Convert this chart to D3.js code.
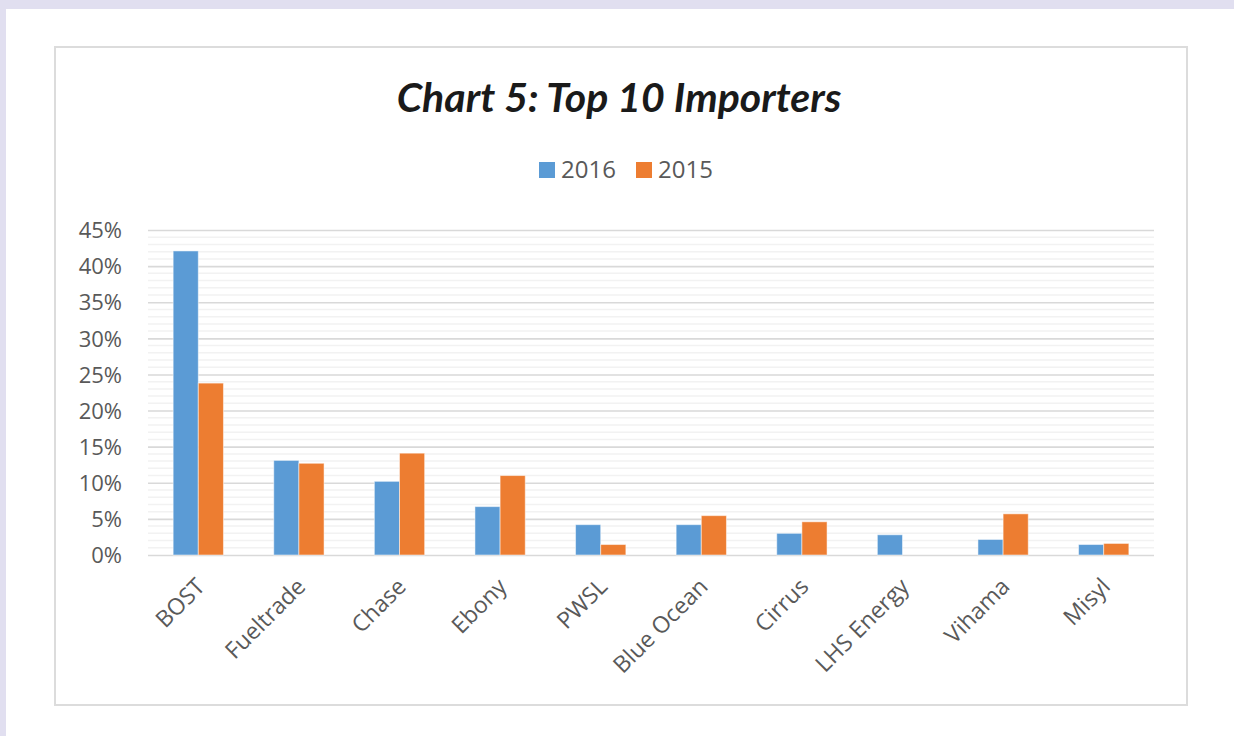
<!DOCTYPE html>
<html>
<head>
<meta charset="utf-8">
<script src="https://cdn.jsdelivr.net/npm/d3@7"></script>
<style>
  html, body { margin: 0; padding: 0; background: #e1dff0; }
  #plot { width: 1234px; height: 736px; }
</style>
</head>
<body>
<div id="plot"></div>
<script>
// chart values
var importers = ["BOST", "Fueltrade", "Chase", "Ebony", "PWSL", "Blue Ocean", "Cirrus", "LHS Energy", "Vihama", "Misyl"];
var years = ["2016", "2015"];
var share2016 = [42.1, 13.1, 10.2, 6.7, 4.2, 4.2, 3.0, 2.8, 2.15, 1.45];
var share2015 = [23.8, 12.7, 14.1, 11.0, 1.45, 5.45, 4.6, 0, 5.7, 1.6];
var yTicks = [0, 5, 10, 15, 20, 25, 30, 35, 40, 45];

var colors = { "2016": "#5b9bd5", "2015": "#ed7d31" };

var W = 1234, H = 736;
var plot = { left: 148, right: 1154, top: 230, bottom: 555 };

var svg = d3.select("div#plot")
  .append("svg")
    .attr("width", W)
    .attr("height", H);

// page background + white sheet
svg.append("rect").attr("width", W).attr("height", H).attr("fill", "#e1dff0");
svg.append("rect").attr("x", 6).attr("y", 9).attr("width", W - 6).attr("height", H - 9).attr("fill", "#fff");

// chart frame
svg.append("rect")
  .attr("x", 55).attr("y", 47)
  .attr("width", 1132).attr("height", 658)
  .attr("fill", "#fff")
  .attr("stroke", "#dcdcdc")
  .attr("stroke-width", 2);

var data = importers.map(function(name, i) {
  return { name: name, "2016": share2016[i], "2015": share2015[i] };
});

var x0 = d3.scaleBand()
  .domain(importers)
  .range([plot.left, plot.right])
  .paddingInner(0.5)
  .paddingOuter(0.25);

var x1 = d3.scaleBand()
  .domain(years)
  .range([0, x0.bandwidth()]);

var y = d3.scaleLinear()
  .domain([0, 45])
  .range([plot.bottom, plot.top]);

// minor gridlines every 1%
var minor = d3.range(0, 46).filter(function(v) { return v % 5 !== 0; });
svg.append("g").selectAll("line")
  .data(minor)
  .enter().append("line")
    .attr("x1", plot.left).attr("x2", plot.right)
    .attr("y1", d => y(d)).attr("y2", d => y(d))
    .attr("stroke", "#f2f2f2")
    .attr("stroke-width", 1.5);

// major gridlines + y labels
var yAxis = svg.append("g")
  .attr("transform", "translate(" + plot.left + ",0)")
  .call(d3.axisLeft(y).tickValues(yTicks).tickSize(-(plot.right - plot.left)).tickFormat(d => d + "%").tickPadding(26));
yAxis.select(".domain").remove();
yAxis.selectAll(".tick line").attr("stroke", "#d9d9d9").attr("stroke-width", 1.6);
yAxis.selectAll(".tick text")
  .attr("fill", "#595959")
  .style("font-family", "'Open Sans', sans-serif")
  .style("font-size", "22px")
  .attr("dy", "0.35em");

// bars
svg.append("g").selectAll("g")
  .data(data)
  .enter().append("g")
    .attr("transform", d => "translate(" + x0(d.name) + ",0)")
  .selectAll("rect")
  .data(d => years.map(k => ({ key: k, value: d[k] })))
  .enter().append("rect")
    .attr("x", d => x1(d.key))
    .attr("y", d => y(d.value))
    .attr("width", x1.bandwidth())
    .attr("height", d => y(0) - y(d.value))
    .attr("fill", d => colors[d.key])
    .attr("stroke", "#fff")
    .attr("stroke-opacity", 0.5)
    .attr("stroke-width", 1);

// category labels, rotated
svg.append("g").selectAll("text")
  .data(importers)
  .enter().append("text")
    .attr("transform", d => "translate(" + (x0(d) + x0.bandwidth() / 2 + 8) + "," + 588 + ") rotate(-45)")
    .attr("text-anchor", "end")
    .attr("fill", "#595959")
    .style("font-family", "'Open Sans', sans-serif")
    .style("font-size", "23px")
    .text(d => d);

// title
svg.append("text")
  .attr("x", 619)
  .attr("y", 112)
  .attr("text-anchor", "middle")
  .attr("fill", "#1a1a1a")
  .style("font-family", "Lato, sans-serif")
  .style("font-weight", "bold")
  .style("font-style", "italic")
  .style("font-size", "41px")
  .text("Chart 5: Top 10 Importers");

// legend
var legend = svg.append("g");
var legendX = [539, 636];
years.forEach(function(k, i) {
  legend.append("rect")
    .attr("x", legendX[i]).attr("y", 162)
    .attr("width", 16).attr("height", 16)
    .attr("fill", colors[k]);
  legend.append("text")
    .attr("x", legendX[i] + 22).attr("y", 178)
    .attr("fill", "#595959")
    .style("font-family", "'Open Sans', sans-serif")
    .style("font-size", "24px")
    .text(k);
});
</script>
</body>
</html>
